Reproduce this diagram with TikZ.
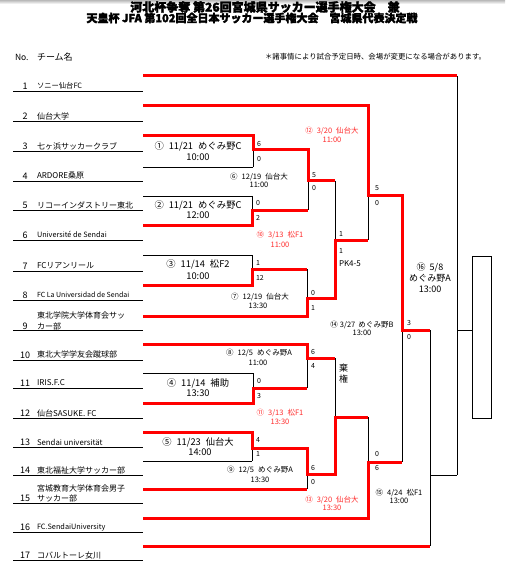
\documentclass[tikz,border=0pt]{standalone}
\usepackage{fontspec}
\setmainfont{Noto Sans CJK JP}
\newfontfamily\titlefont[BoldFeatures={FakeBold=2.5}]{Noto Sans CJK JP}
\definecolor{labred}{RGB}{255,45,45}
\begin{document}
\begin{tikzpicture}[x=1pt,y=-1pt,
  every node/.style={inner sep=0pt,outer sep=0pt},
  rl/.style={draw=red,line width=3pt,line join=miter},
  bl/.style={draw=black,line width=0.9pt},
  tname/.style={anchor=west,font=\fontsize{8}{9.6}\selectfont},
  tlat/.style={anchor=west,font=\fontsize{7.3}{8.8}\selectfont},
  tnum/.style={font=\fontsize{9}{10}\selectfont},
  sc/.style={anchor=west,font=\fontsize{7}{8}\selectfont},
  lab1/.style={font=\fontsize{9.3}{10}\selectfont},
  lab2/.style={font=\fontsize{7.5}{8}\selectfont},
  rlab/.style={lab2,text=labred},
]
\useasboundingbox (0,0) rectangle (505,569);
\shade[top color=gray!55,bottom color=white] (0,0) rectangle (505,4);

% title
\node[font=\titlefont\bfseries\fontsize{12}{13}\selectfont] (title1) at (265,7) {河北杯争奪 第26回宮城県サッカー選手権大会　兼};
\node[font=\titlefont\bfseries\fontsize{11}{12}\selectfont] (title2) at (252,18) {天皇杯 JFA 第102回全日本サッカー選手権大会　宮城県代表決定戦};

% header
\node[anchor=west,font=\fontsize{8.5}{9}\selectfont] (hno) at (15,57) {No.};
\node[anchor=west,font=\fontsize{9}{10}\selectfont] (hname) at (37,57) {チーム名};
\node[anchor=west,font=\fontsize{7.4}{8}\selectfont] (hnote) at (265,57) {＊諸事情により試合予定日時、会場が変更になる場合があります。};

% row separators
\foreach \yy in {91,121,151,181,210,240,271,300,330,360,388,418,447,475,503,532,560}
  \draw[bl] (13,\yy) -- (143,\yy);

% team numbers and names
\foreach \n/\yy in {1/86,2/116,3/146,4/176,5/205,6/235,7/266,8/295,9/326,10/355,11/383,12/413,13/442,14/470,15/498,16/527,17/555}
  \node[tnum] (nn\n) at (25,\yy) {\n};
\node[tname,font=\fontsize{7.3}{8}\selectfont] (tn1) at (37,86) {ソニー仙台FC};
\node[tname] (tn2) at (37,116) {仙台大学};
\node[tname] (tn3) at (37,146) {七ヶ浜サッカークラブ};
\node[tname] (tn4) at (37,176) {ARDORE桑原};
\node[tname] (tn5) at (37,205) {リコーインダストリー東北};
\node[tlat] (tn6) at (37,234) {Université de Sendai};
\node[tname] (tn7) at (37,266) {FCリアンリール};
\node[tlat,font=\fontsize{7}{8}\selectfont] (tn8) at (37,295) {FC La Universidad de Sendai};
\node[tname] (tn9a) at (37,315) {東北学院大学体育会サッ};
\node[tname] (tn9b) at (37,326.5) {カー部};
\node[tname] (tn10) at (37,354) {東北大学学友会蹴球部};
\node[tname] (tn11) at (37,383) {IRIS.F.C};
\node[tname] (tn12) at (37,413) {仙台SASUKE. FC};
\node[tlat,font=\fontsize{7.8}{8}\selectfont] (tn13) at (37,442) {Sendai universität};
\node[tname] (tn14) at (37,470) {東北福祉大学サッカー部};
\node[tname] (tn15a) at (37,488) {宮城教育大学体育会男子};
\node[tname] (tn15b) at (37,498) {サッカー部};
\node[tlat] (tn16) at (37,527) {FC.SendaiUniversity};
\node[tname] (tn17) at (37,555) {コバルトーレ女川};

% entry points
\foreach \n/\yy in {1/76,2/106,3/136,4/167,5/196,6/225,7/255,8/285,9/316,10/344,11/373,12/403,13/432,14/461,15/489,16/518,17/546}
  \coordinate (e\n) at (143,\yy);
% match exit points
\coordinate (m1) at (253,150);
\coordinate (m2) at (252,210);
\coordinate (m3) at (252,269);
\coordinate (m4) at (253,388);
\coordinate (m5) at (252,448);
\coordinate (m6) at (308,181);
\coordinate (m7) at (307,298);
\coordinate (m8) at (307,358);
\coordinate (m9) at (307,474);
\coordinate (m10) at (335,240);
\coordinate (m11) at (335,417);
\coordinate (m12) at (368,196);
\coordinate (m13) at (368,462);
\coordinate (m14) at (402,330);
\coordinate (m15) at (430,475);
\coordinate (m16) at (457,330);
\node[draw,line width=0.9pt,minimum width=19pt,minimum height=162pt] (champ) at (481.5,337) {};

% black lines
\draw[bl] (e4) -- (e4 -| m1);
\draw[bl] (e5) -- (e5 -| m2);
\draw[bl] (e7) -- (e7 -| m3);
\draw[bl] (e11) -- (e11 -| m4);
\draw[bl] (e14) -- (e14 -| m5);
\draw[bl] (m1 |- e3) -- (m1 |- e4);
\draw[bl] (m2 |- e5) -- (m2 |- e6);
\draw[bl] (m3 |- e7) -- (m3 |- e8);
\draw[bl] (m4 |- e11) -- (m4 |- e12);
\draw[bl] (m5 |- e13) -- (m5 |- e14);
\draw[bl] (m6 |- m1) -- (m6 |- m2);
\draw[bl] (m7 |- m3) -- (m7 |- e9);
\draw[bl] (m8 |- e10) -- (m8 |- m4);
\draw[bl] (m9 |- m5) -- (m9 |- e15);
\draw[bl] (m10 |- m6) -- (m10 |- m7);
\draw[bl] (m11 |- m8) -- (m11 |- m9);
\draw[bl] (m12 |- e2) -- (m12 |- m10);
\draw[bl] (m13 |- m11) -- (m13 |- e16);
\draw[bl] (m14 |- m12) -- (m14 |- m13);
\draw[bl] (m15 |- m14) -- (m15 |- e17);
\draw[bl] (m16 |- e1) -- (m16 |- m15);
\draw[bl] (m15) -- (m15 -| m16);
\draw[bl] (m16) -- (m16 -| champ.west);

% red winner paths
\draw[rl] (e1) -- (e1 -| m16);
\draw[rl] (e2) -| (m12) -| (m14) -- (m14 -| m15);
\draw[rl] (e3) -| (m1) -| (m6) -- (m6 -| m10);
\draw[rl] (e6) -| (m2) -- (m2 -| m6);
\draw[rl] (e8) -| (m3) -- (m3 -| m7);
\draw[rl] (e9) -| (m7) -| (m10) -- (m10 -| m12);
\draw[rl] (e10) -| (m8) -- (m8 -| m11);
\draw[rl] (e12) -| (m4) -- (m4 -| m8);
\draw[rl] (e13) -| (m5) -| (m9) -| (m11) -- (m11 -| m13);
\draw[rl] (e15) -- (e15 -| m9);
\draw[rl] (e16) -| (m13) -- (m13 -| m14);
\draw[rl] (e17) -- (e17 -| m15);

% first round labels
\node[lab1] (l1a) at (198,146) {①\hspace{5pt}11/21\hspace{5pt}めぐみ野C};
\node[lab1] (l1b) at (198,157) {10:00};
\node[lab1] (l2a) at (198,205) {②\hspace{5pt}11/21\hspace{5pt}めぐみ野C};
\node[lab1] (l2b) at (198,215) {12:00};
\node[lab1] (l3a) at (198,264) {③\hspace{5pt}11/14\hspace{5pt}松F2};
\node[lab1] (l3b) at (198,276) {10:00};
\node[lab1] (l4a) at (198,383) {④\hspace{5pt}11/14\hspace{5pt}補助};
\node[lab1] (l4b) at (198,393) {13:30};
\node[lab1] (l5a) at (198,442) {⑤\hspace{5pt}11/23\hspace{5pt}仙台大};
\node[lab1] (l5b) at (200,452) {14:00};

% later round labels
\node[lab2] (l6a) at (259,177) {⑥\hspace{4pt}12/19\hspace{4pt}仙台大};
\node[lab2] (l6b) at (259,185) {11:00};
\node[lab2] (l7a) at (260,297) {⑦\hspace{4pt}12/19\hspace{4pt}仙台大};
\node[lab2] (l7b) at (258,306) {13:30};
\node[lab2] (l8a) at (259,353) {⑧\hspace{4pt}12/5\hspace{4pt}めぐみ野A};
\node[lab2] (l8b) at (258,363) {11:00};
\node[lab2] (l9a) at (260,470) {⑨\hspace{4pt}12/5\hspace{4pt}めぐみ野A};
\node[lab2] (l9b) at (260,480) {13:30};
\node[rlab] (l10a) at (280,235) {⑩\hspace{4pt}3/13\hspace{4pt}松F1};
\node[rlab] (l10b) at (280,245) {11:00};
\node[rlab] (l11a) at (280,413) {⑪\hspace{4pt}3/13\hspace{4pt}松F1};
\node[rlab] (l11b) at (280,422) {13:30};
\node[rlab] (l12a) at (332,131) {⑫\hspace{4pt}3/20\hspace{4pt}仙台大};
\node[rlab] (l12b) at (332,140) {11:00};
\node[rlab] (l13a) at (332,500) {⑬\hspace{4pt}3/20\hspace{4pt}仙台大};
\node[rlab] (l13b) at (332,508) {13:30};
\node[lab2] (l14a) at (362,325) {⑭\hspace{2pt}3/27\hspace{3pt}めぐみ野B};
\node[lab2] (l14b) at (362,333) {13:00};
\node[lab2] (l15a) at (399,493) {⑮\hspace{4pt}4/24\hspace{4pt}松F1};
\node[lab2] (l15b) at (399,501) {13:00};
\node[lab1,font=\fontsize{9}{10}\selectfont] (l16a) at (430,267) {⑯\hspace{4pt}5/8};
\node[lab1,font=\fontsize{9}{10}\selectfont] (l16b) at (430,278) {めぐみ野A};
\node[lab1,font=\fontsize{9}{10}\selectfont] (l16c) at (430,289) {13:00};

% scores
\node[sc] (s1a) at (257,144) {6};  \node[sc] (s1b) at (257,159) {0};
\node[sc] (s2a) at (256,203) {0};  \node[sc] (s2b) at (256,218) {2};
\node[sc] (s3a) at (256,263) {1};  \node[sc] (s3b) at (256,278) {12};
\node[sc] (s4a) at (257,381) {0};  \node[sc] (s4b) at (257,396) {3};
\node[sc] (s5a) at (256,440) {4};  \node[sc] (s5b) at (256,454) {1};
\node[sc] (s6a) at (312,175) {5};  \node[sc] (s6b) at (312,188) {0};
\node[sc] (s7a) at (311,293) {0};  \node[sc] (s7b) at (311,308) {1};
\node[sc] (s8a) at (311,352) {6};  \node[sc] (s8b) at (311,366) {4};
\node[sc] (s9a) at (311,468) {6};  \node[sc] (s9b) at (311,482) {0};
\node[sc] (s10a) at (339,234) {1}; \node[sc] (s10b) at (339,251) {1};
\node[sc,font=\fontsize{8}{9}\selectfont] (s10c) at (339,264) {PK4-5};
\node[sc,font=\fontsize{9}{10}\selectfont] (s11a) at (339,368) {棄};
\node[sc,font=\fontsize{9}{10}\selectfont] (s11b) at (339,379) {権};
\node[sc] (s12a) at (375,188) {5}; \node[sc] (s12b) at (375,203) {0};
\node[sc] (s13a) at (375,454) {0}; \node[sc] (s13b) at (375,468) {6};
\node[sc] (s14a) at (407,323) {3}; \node[sc] (s14b) at (407,337) {0};
\end{tikzpicture}
\end{document}
